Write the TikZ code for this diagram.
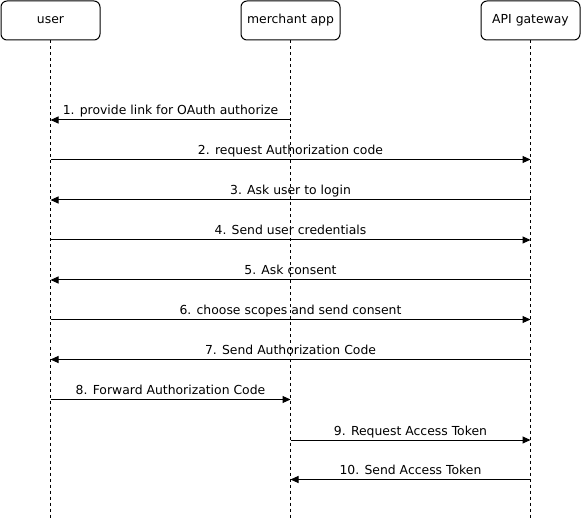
\documentclass[tikz,border=0pt]{standalone}
\usepackage{fontspec}
\setmainfont{DejaVu Sans}
\usetikzlibrary{arrows.meta}
\begin{document}
\begin{tikzpicture}[x=1pt,y=-1pt,
  actor/.style={draw=black,rounded corners=6pt,line width=1pt,minimum width=99pt,minimum height=39pt,inner sep=0pt,font=\fontsize{12.4}{14}\selectfont},
  life/.style={line width=1pt,dash pattern=on 3pt off 3pt},
  msg/.style={line width=1pt,-{Triangle[length=8pt,width=7pt]}},
  lbl/.style={midway,anchor=base,yshift=5pt,inner sep=0pt,font=\fontsize{12.4}{14}\selectfont}]
\useasboundingbox (0,0) rectangle (581,521);
\node[actor] (user) at (50.5,20.5) {user};
\node[actor] (mer) at (290.5,20.5) {merchant app};
\node[actor] (gw) at (530.5,20.5) {API gateway};
\coordinate (uEnd) at (50.5,519);
\coordinate (mEnd) at (290.5,519);
\coordinate (gEnd) at (530.5,519);
\draw[life] (user.south) -- (uEnd);
\draw[life] (mer.south) -- (mEnd);
\draw[life] (gw.south) -- (gEnd);
\foreach \i/\y in {1/120,2/159.5,3/200,4/240,5/280,6/319.5,7/359.5,8/399.5,9/440,10/479.5}{
  \coordinate (u\i) at (50.5,\y);
  \coordinate (m\i) at (290.5,\y);
  \coordinate (g\i) at (530.5,\y);
}
\draw[msg] (m1) -- node[lbl]{1. provide link for OAuth authorize} (u1);
\draw[msg] (u2) -- node[lbl]{2. request Authorization code} (g2);
\draw[msg] (g3) -- node[lbl]{3. Ask user to login} (u3);
\draw[msg] (u4) -- node[lbl]{4. Send user credentials} (g4);
\draw[msg] (g5) -- node[lbl]{5. Ask consent} (u5);
\draw[msg] (u6) -- node[lbl]{6. choose scopes and send consent} (g6);
\draw[msg] (g7) -- node[lbl]{7. Send Authorization Code} (u7);
\draw[msg] (u8) -- node[lbl]{8. Forward Authorization Code} (m8);
\draw[msg] (m9) -- node[lbl]{9. Request Access Token} (g9);
\draw[msg] (g10) -- node[lbl]{10. Send Access Token} (m10);
\end{tikzpicture}
\end{document}
